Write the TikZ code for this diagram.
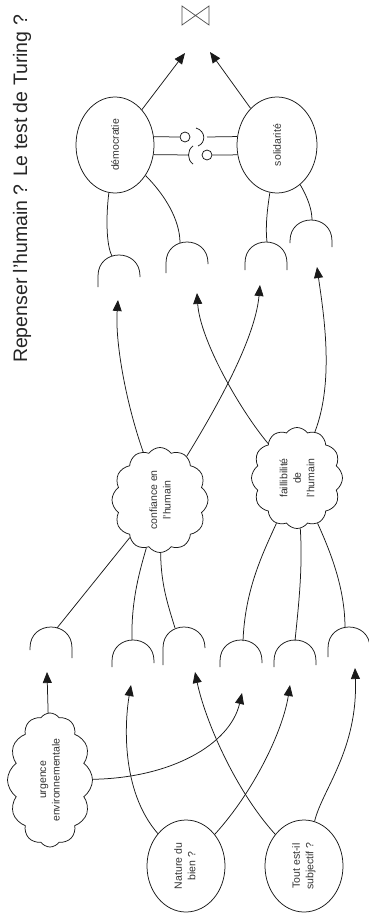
\documentclass[tikz,border=0pt]{standalone}
\usepackage{fontspec}
\setmainfont{Liberation Sans}
\usetikzlibrary{shapes.geometric,shapes.symbols,arrows.meta}
\newcommand\gatearc[4]{%
  \draw[ln] ({#1-21},#3) -- ({#1-21},#2) .. controls ({#1-21},{#2-28}) and ({#1+21},{#2-28}) .. ({#1+21},#2) -- ({#1+21},#4);}
\begin{document}
\begin{tikzpicture}[x=1pt,y=-1pt,
  ln/.style={draw=black!90,line width=0.75pt},
  arr/.style={ln,-{Triangle[length=11pt,width=9pt]}},
  txt/.style={font=\fontsize{10.5}{13.5}\selectfont,text=black!80},
  ell/.style={ellipse,ln,txt,inner sep=0pt},
  cld/.style={cloud,cloud puffs=12,cloud puff arc=110,cloud ignores aspect,ln,txt,inner sep=0pt,rotate=90,align=center},
  knot/.style={circle,ln,minimum size=10pt,inner sep=0pt}]
\useasboundingbox (0,0) rectangle (368,920);
% title
\node[rotate=90,font=\fontsize{19.5}{22}\selectfont,text=black!85] (title) at (22,189) {Repenser l'humain ? Le test de Turing ?};
% sink symbol
\draw[line width=0.7pt,black!70] (182,6) -- (182,25) -- (209,6) -- (209,25) -- cycle;
% nodes
\node[ell,minimum width=78pt,minimum height=96pt] (demo) at (115,145) {\rotatebox{90}{démocratie}};
\node[ell,minimum width=80pt,minimum height=96pt] (soli) at (277,145) {\rotatebox{90}{solidarité}};
\node[cld,minimum width=105pt,minimum height=96pt] (conf) at (160,500) {confiance en\\l'humain};
\node[cld,minimum width=101pt,minimum height=91pt] (fail) at (297,478) {faillibilité\\de\\l'humain};
\node[cld,minimum width=134pt,minimum height=85pt] (urg) at (50,780) {urgence\\environnementale};
\node[ell,minimum width=78pt,minimum height=92pt] (nat) at (186,866) {\rotatebox{90}{\begin{tabular}{@{}c@{}}Nature du\\bien ?\end{tabular}}};
\node[ell,minimum width=78pt,minimum height=92pt] (tout) at (304,866) {\rotatebox{90}{\begin{tabular}{@{}c@{}}Tout est-il\\subjectif ?\end{tabular}}};
% gates (upper)
\gatearc{119}{276}{287}{277}
\gatearc{187}{263}{273}{264}
\gatearc{266}{263}{270}{270}
\gatearc{311}{241}{243}{247}
% gates (lower)
\gatearc{51}{648}{650}{658}
\gatearc{133}{661}{667}{663}
\gatearc{184}{648}{665}{648}
\gatearc{241}{661}{667}{663}
\gatearc{295}{661}{667}{665}
\gatearc{349}{648}{657}{648}
% coordinates
\coordinate (top1) at (185,53);
\coordinate (top2) at (210,52);
\coordinate (g1t) at (112,256);
\coordinate (g2t) at (180,243);
\coordinate (g3t) at (267,242);
\coordinate (g4t) at (312,220);
\coordinate (t1) at (118,300);
\coordinate (t2) at (197,293);
\coordinate (t3) at (260,285);
\coordinate (t4) at (317,267);
\coordinate (g5t) at (57,628);
\coordinate (g6t) at (132,640);
\coordinate (g7t) at (175,628);
\coordinate (g8t) at (243,641);
\coordinate (g9t) at (295,641);
\coordinate (g10t) at (345,628);
\coordinate (u5) at (47,672);
\coordinate (u6) at (131,685);
\coordinate (u7) at (195,672);
\coordinate (u8) at (242,693);
\coordinate (u9) at (290,685);
\coordinate (u10) at (355,668);
% coupling between democratie and solidarite
\node[knot] (k1) at (185,137) {};
\node[knot] (k2) at (207,155) {};
\coordinate (k1r) at (207,137);
\coordinate (k2l) at (189,155);
\draw[ln] (demo.12) -- (k1);
\draw[ln] (k1r) -- (soli.168);
\draw[ln] (196,128) .. controls (206,131) and (206,143) .. (198,146);
\draw[ln] (demo.-14) -- (k2l);
\draw[ln] (193,146) .. controls (187,150) and (187,160) .. (193,164);
\draw[ln] (k2) -- (soli.194);
% top arrows
\draw[arr] (demo) -- (top1);
\draw[arr] (soli) -- (top2);
% ellipses to upper gates
\draw[ln] (demo) .. controls (106,215) and (106,245) .. (g1t);
\draw[ln] (demo) .. controls (165,195) and (180,220) .. (g2t);
\draw[ln] (soli) .. controls (268,205) and (265,225) .. (g3t);
\draw[ln] (soli) .. controls (308,198) and (312,210) .. (g4t);
% clouds to upper gates
\draw[arr] (conf) .. controls (125,400) and (115,340) .. (t1);
\draw[arr] (conf) .. controls (215,410) and (255,340) .. (t3);
\draw[arr] (fail) .. controls (240,410) and (200,340) .. (t2);
\draw[arr] (fail) .. controls (335,380) and (323,310) .. (t4);
% clouds to lower gates
\draw[ln] (conf) -- (g5t);
\draw[ln] (conf) .. controls (140,570) and (131,600) .. (g6t);
\draw[ln] (conf) .. controls (161,585) and (168,605) .. (g7t);
\draw[ln] (fail) .. controls (262,555) and (245,590) .. (g8t);
\draw[ln] (fail) .. controls (303,570) and (298,610) .. (g9t);
\draw[ln] (fail) .. controls (332,555) and (345,590) .. (g10t);
% bottom arrows
\draw[arr] (urg) -- (u5);
\draw[arr] (urg) .. controls (170,778) and (230,745) .. (u8);
\draw[arr] (nat) .. controls (120,790) and (125,720) .. (u6);
\draw[arr] (nat) .. controls (255,790) and (283,730) .. (u9);
\draw[arr] (tout) .. controls (235,790) and (205,720) .. (u7);
\draw[arr] (tout) .. controls (322,790) and (358,750) .. (u10);
\end{tikzpicture}
\end{document}
